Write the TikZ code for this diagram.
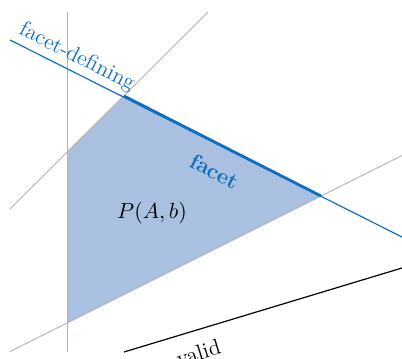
\documentclass[tikz,border=0pt]{standalone}
\definecolor{fblue}{RGB}{16,110,190}
\definecolor{pfill}{RGB}{170,192,224}
\begin{document}
\begin{tikzpicture}[x=0.5pt,y=-0.5pt,
  every node/.style={font=\fontsize{11}{13}\selectfont},
  gl/.style={black!30, line width=0.45pt},
  fdline/.style={fblue, line width=0.6pt},
  facetline/.style={fblue, line width=1.4pt},
  validline/.style={black, line width=0.6pt}]
\useasboundingbox (0,0) rectangle (402,359);
\coordinate (A) at (67,152);
\coordinate (B) at (124,96);
\coordinate (C) at (321,196);
\coordinate (D) at (67,323);
\coordinate (v1) at (67,12);
\coordinate (v2) at (67,352);
\coordinate (d1) at (10,209);
\coordinate (d2) at (208,12);
\coordinate (e1) at (10,351.5);
\coordinate (e2) at (402,155.5);
\coordinate (f1) at (10,40);
\coordinate (f2) at (402,237);
\coordinate (w1) at (124,352);
\coordinate (w2) at (402,268);
\fill[pfill] (A) -- (B) -- (C) -- (D) -- cycle;
\draw[gl] (v1) -- (v2);
\draw[gl] (d1) -- (d2);
\draw[gl] (e1) -- (e2);
\draw[fdline] (f1) -- (f2) node[pos=0, anchor=south west, sloped, text=fblue, inner sep=2pt] {facet-defining};
\draw[facetline] (B) -- (C) node[pos=0.52, below=5pt, sloped, text=fblue] {\bfseries facet};
\draw[validline] (w1) -- (w2) node[pos=0.245, below=3.5pt, sloped] {valid};
\node (P) at (152,213) {$P(A,b)$};
\end{tikzpicture}
\end{document}
